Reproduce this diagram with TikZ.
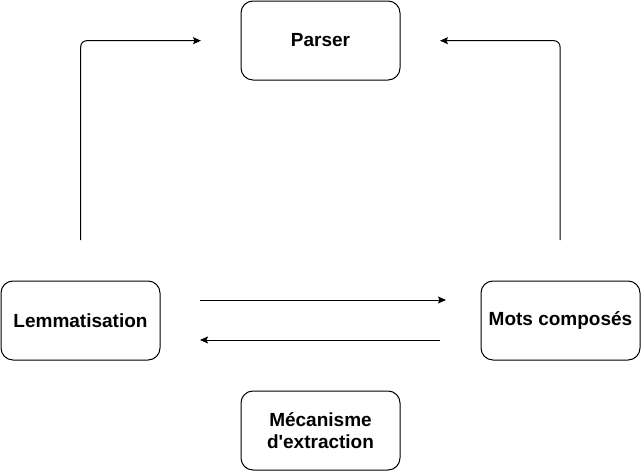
\documentclass[tikz,border=0pt]{standalone}
\usepackage{fontspec}
\setmainfont{Liberation Sans}
\usetikzlibrary{arrows.meta}
\begin{document}
\begin{tikzpicture}[x=1pt,y=-1pt,
  box/.style={draw, line width=1pt, rounded corners=12pt, minimum width=159pt, minimum height=79pt, inner sep=0pt, align=center, font=\fontsize{19}{22}\selectfont\bfseries},
  conn/.style={line width=1pt, -{Stealth[length=8pt,width=7pt,inset=1.5pt]}}
]
\useasboundingbox (0,0) rectangle (641,471);
\node[box] (parser) at (320.5,40.5) {Parser};
\node[box] (lem) at (80.5,320.5) {Lemmatisation};
\node[box] (mots) at (560.5,320.5) {Mots composés};
\node[box] (meca) at (320.5,430.5) {Mécanisme\\d\textquotesingle extraction};
\coordinate (l0) at (80.7,240);
\coordinate (l1) at (201,40.7);
\coordinate (r0) at (560,240);
\coordinate (r1) at (440,40.7);
\coordinate (a0) at (200,300);
\coordinate (a1) at (446,300);
\coordinate (b0) at (440,340);
\coordinate (b1) at (200,340);
\draw[conn, rounded corners=6pt] (l0) |- (l1);
\draw[conn, rounded corners=6pt] (r0) |- (r1);
\draw[conn] (a0) -- (a1);
\draw[conn] (b0) -- (b1);
\end{tikzpicture}
\end{document}
